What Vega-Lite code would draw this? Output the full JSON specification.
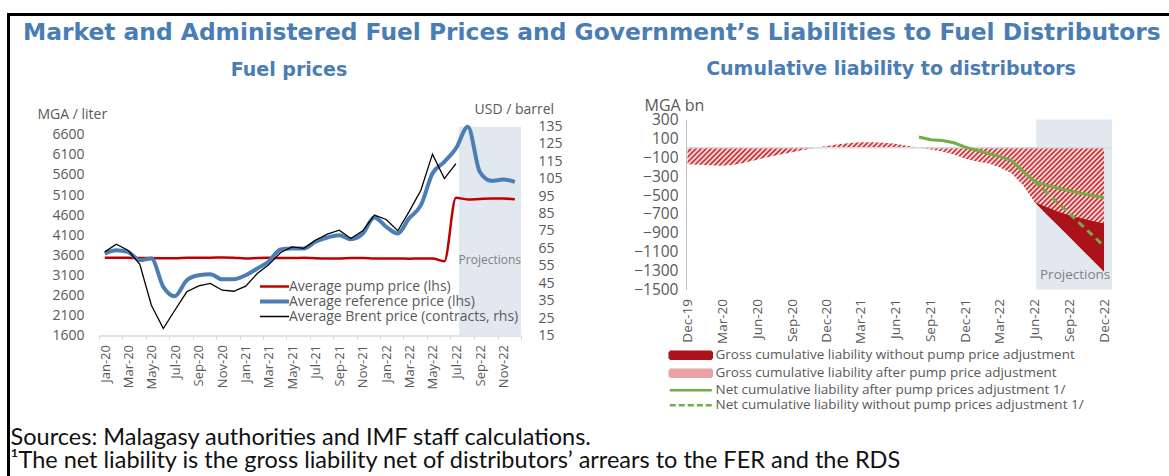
{
  "$schema": "https://vega.github.io/schema/vega-lite/v6.json",
  "background": "white",
  "padding": {"left": 7, "top": 13, "right": 0, "bottom": 0},
  "spacing": 0,
  "config": {
    "view": {"stroke": null},
    "font": "Open Sans",
    "axis": {"labelColor": "#595959", "titleColor": "#595959", "labelFont": "Open Sans", "titleFont": "Open Sans", "titleFontWeight": "normal", "grid": false, "labelOverlap": false, "labelBound": false, "labelFlush": false},
    "legend": {"labelColor": "#595959", "labelFont": "Open Sans", "padding": 0, "labelLimit": 600},
    "title": {"font": "DejaVu Sans", "fontWeight": "bold", "color": "#4A7DB4"}
  },
  "datasets": {
    "fuel": [
      {"d": "2020-01-16", "pump": 3540, "ref": 3640, "brent": 63.0},
      {"d": "2020-02-15", "pump": 3540, "ref": 3725, "brent": 67.4},
      {"d": "2020-03-16", "pump": 3535, "ref": 3685, "brent": 64.0},
      {"d": "2020-04-16", "pump": 3530, "ref": 3476, "brent": 55.9},
      {"d": "2020-05-16", "pump": 3530, "ref": 3518, "brent": 32.4},
      {"d": "2020-06-16", "pump": 3525, "ref": 2813, "brent": 19.0},
      {"d": "2020-07-16", "pump": 3525, "ref": 2580, "brent": 29.5},
      {"d": "2020-08-16", "pump": 3535, "ref": 2978, "brent": 40.1},
      {"d": "2020-09-16", "pump": 3540, "ref": 3102, "brent": 43.5},
      {"d": "2020-10-16", "pump": 3540, "ref": 3127, "brent": 44.9},
      {"d": "2020-11-16", "pump": 3545, "ref": 3000, "brent": 41.0},
      {"d": "2020-12-16", "pump": 3540, "ref": 3000, "brent": 40.4},
      {"d": "2021-01-16", "pump": 3520, "ref": 3102, "brent": 43.3},
      {"d": "2021-02-15", "pump": 3530, "ref": 3270, "brent": 50.6},
      {"d": "2021-03-16", "pump": 3535, "ref": 3436, "brent": 55.4},
      {"d": "2021-04-16", "pump": 3530, "ref": 3743, "brent": 62.5},
      {"d": "2021-05-16", "pump": 3530, "ref": 3768, "brent": 65.9},
      {"d": "2021-06-16", "pump": 3535, "ref": 3768, "brent": 65.0},
      {"d": "2021-07-16", "pump": 3525, "ref": 3934, "brent": 69.7},
      {"d": "2021-08-16", "pump": 3520, "ref": 4041, "brent": 73.2},
      {"d": "2021-09-16", "pump": 3520, "ref": 4100, "brent": 75.5},
      {"d": "2021-10-16", "pump": 3530, "ref": 4000, "brent": 70.7},
      {"d": "2021-11-16", "pump": 3530, "ref": 4141, "brent": 75.1},
      {"d": "2021-12-16", "pump": 3520, "ref": 4540, "brent": 84.1},
      {"d": "2022-01-16", "pump": 3520, "ref": 4308, "brent": 81.6},
      {"d": "2022-02-15", "pump": 3520, "ref": 4141, "brent": 75.1},
      {"d": "2022-03-16", "pump": 3515, "ref": 4515, "brent": 86.0},
      {"d": "2022-04-16", "pump": 3520, "ref": 4846, "brent": 98.4},
      {"d": "2022-05-16", "pump": 3520, "ref": 5636, "brent": 119.1},
      {"d": "2022-06-16", "pump": 3450, "ref": 5927, "brent": 105.1},
      {"d": "2022-07-16", "pump": 5030, "ref": 6259, "brent": 113.7},
      {"d": "2022-08-16", "pump": 4990, "ref": 6799},
      {"d": "2022-09-16", "pump": 5000, "ref": 5677},
      {"d": "2022-10-16", "pump": 5010, "ref": 5453},
      {"d": "2022-11-16", "pump": 5010, "ref": 5486},
      {"d": "2022-12-16", "pump": 4995, "ref": 5428}
    ],
    "liab": [
      {"d": "2019-12-01", "after": -175},
      {"d": "2020-01-01", "after": -178},
      {"d": "2020-02-01", "after": -185},
      {"d": "2020-03-01", "after": -190},
      {"d": "2020-04-01", "after": -180},
      {"d": "2020-05-01", "after": -155},
      {"d": "2020-06-01", "after": -126},
      {"d": "2020-07-01", "after": -98},
      {"d": "2020-08-01", "after": -70},
      {"d": "2020-09-01", "after": -46},
      {"d": "2020-10-01", "after": -22},
      {"d": "2020-11-01", "after": 0},
      {"d": "2020-12-01", "after": 19},
      {"d": "2021-01-01", "after": 37},
      {"d": "2021-02-01", "after": 51},
      {"d": "2021-03-01", "after": 60},
      {"d": "2021-04-01", "after": 60},
      {"d": "2021-05-01", "after": 54},
      {"d": "2021-06-01", "after": 44},
      {"d": "2021-07-01", "after": 22},
      {"d": "2021-08-01", "after": 0, "net": 114},
      {"d": "2021-09-01", "after": -17, "net": 86},
      {"d": "2021-10-01", "after": -40, "net": 78},
      {"d": "2021-11-01", "after": -70, "net": 54},
      {"d": "2021-12-01", "after": -115, "net": 8},
      {"d": "2022-01-01", "after": -145, "net": -27},
      {"d": "2022-02-01", "after": -165, "net": -62},
      {"d": "2022-03-01", "after": -205, "net": -90},
      {"d": "2022-04-01", "after": -270, "net": -135},
      {"d": "2022-05-01", "after": -390, "net": -245},
      {"d": "2022-06-01", "after": -573, "without": -573, "net": -355, "netw": -355},
      {"d": "2022-07-01", "after": -625, "without": -697, "net": -395, "netw": -465},
      {"d": "2022-08-01", "after": -675, "without": -820, "net": -425, "netw": -580},
      {"d": "2022-09-01", "after": -715, "without": -943, "net": -455, "netw": -695},
      {"d": "2022-10-01", "after": -745, "without": -1067, "net": -480, "netw": -810},
      {"d": "2022-11-01", "after": -775, "without": -1190, "net": -505, "netw": -925},
      {"d": "2022-12-01", "after": -800, "without": -1313, "net": -525, "netw": -1040}
    ]
  },
  "vconcat": [
    {
      "data": {"values": [{}]},
      "mark": {"type": "rect", "color": "#000000"},
      "encoding": {},
      "width": 1162,
      "height": 3
    },
    {
      "spacing": 0,
      "center": true,
      "hconcat": [
        {
          "data": {"values": [{}]},
          "mark": {"type": "rect", "color": "#000000"},
          "encoding": {},
          "width": 3,
          "height": 560
        },
        {
          "title": {
            "text": ["Sources: Malagasy authorities and IMF staff calculations.", "¹The net liability is the gross liability net of distributors’ arrears to the FER and the RDS"],
            "orient": "bottom",
            "anchor": "start",
            "font": "Lato",
            "fontWeight": "normal",
            "fontSize": 23.5,
            "lineHeight": 23,
            "color": "#111111",
            "offset": 13.5,
            "dx": -12.5
          },
          "vconcat": [
            {
              "title": {
                "text": "Market and Administered Fuel Prices and Government’s Liabilities to Fuel Distributors",
                "fontSize": 23.35,
                "anchor": "middle",
                "offset": 14,
                "dx": 17
              },
              "bounds": "flush",
              "spacing": 165,
              "resolve": {"scale": {"color": "independent"}, "legend": {"color": "independent"}},
              "hconcat": [
                {
                  "width": 422,
                  "height": 216,
                  "title": {"text": "Fuel prices", "fontSize": 19, "frame": "group", "anchor": "middle", "dx": -21, "offset": 23},
                  "data": {"name": "fuel"},
                  "resolve": {"scale": {"y": "independent"}},
                  "layer": [
                    {
                      "layer": [
                        {
                          "data": {"values": [{"start": "2022-07-24", "end": "2023-01-01"}]},
                          "mark": {"type": "rect", "color": "#E1E8F0"},
                          "encoding": {
                            "x": {
                              "field": "start", "type": "temporal",
                              "scale": {"type": "utc", "domain": [{"year": 2020, "month": 1, "date": 1, "utc": true}, {"year": 2023, "month": 1, "date": 1, "utc": true}]},
                              "axis": {
                                "title": null,
                                "tickCount": {"interval": "month", "step": 2},
                                "labelExpr": "utcyear(datum.value) > 2022 ? '' : utcFormat(datum.value, '%b-%y')",
                                "labelAngle": 270,
                                "labelOffset": 6,
                                "labelFontSize": 13,
                                "labelPadding": 5,
                                "tickSize": 4,
                                "tickColor": "#D9D9D9",
                                "domainColor": "#D9D9D9",
                                "domainWidth": 1.5,
                                "labelOverlap": false
                              }
                            },
                            "x2": {"field": "end"},
                            "y": {
                              "datum": 1600, "type": "quantitative",
                              "scale": {"domain": [1600, 6981], "nice": false, "zero": false},
                              "axis": {
                                "title": "MGA / liter",
                                "values": [1600, 2100, 2600, 3100, 3600, 4100, 4600, 5100, 5600, 6100, 6600],
                                "tickCount": 20,
                                "format": "d",
                                "domain": false,
                                "ticks": false,
                                "labelOverlap": false,
                                "labelPadding": 15,
                                "labelFontSize": 14,
                                "titleAngle": 0,
                                "titleAlign": "left",
                                "titleBaseline": "middle",
                                "titleX": -62,
                                "titleY": -5,
                                "titleFontSize": 14
                              }
                            },
                            "y2": {"datum": 6800}
                          }
                        },
                        {
                          "mark": {"type": "line", "strokeWidth": 2.5, "interpolate": "monotone"},
                          "encoding": {
                            "x": {"field": "d", "type": "temporal"},
                            "y": {"field": "pump", "type": "quantitative", "scale": {"domain": [1600, 6981], "nice": false, "zero": false}},
                            "color": {
                              "datum": "Average pump price (lhs)",
                              "type": "nominal",
                              "scale": {"domain": ["Average pump price (lhs)", "Average reference price (lhs)", "Average Brent price (contracts, rhs)"], "range": ["#C00000", "#4A7EB5", "#000000"]},
                              "legend": {
                                "title": null,
                                "orient": "none",
                                "legendX": 168.5,
                                "legendY": 160,
                                "symbolType": "M-2.9,0H2.9",
                                "symbolSize": 100,
                                "symbolStrokeWidth": 2.5,
                                "labelFontSize": 14,
                                "labelOffset": 7.5,
                                "labelLimit": 600,
                                "rowPadding": 0,
                                "padding": 0,
                                "encode": {
                                  "symbols": {
                                    "update": {
                                      "strokeWidth": {"signal": "datum.value === 'Average reference price (lhs)' ? 4 : datum.value === 'Average pump price (lhs)' ? 2.5 : 1.5"},
                                      "fill": {"value": "transparent"},
                                      "opacity": {"value": 1}
                                    }
                                  }
                                }
                              }
                            }
                          }
                        },
                        {
                          "mark": {"type": "line", "strokeWidth": 4, "interpolate": "monotone"},
                          "encoding": {
                            "x": {"field": "d", "type": "temporal"},
                            "y": {"field": "ref", "type": "quantitative", "scale": {"domain": [1600, 6981], "nice": false, "zero": false}},
                            "color": {"datum": "Average reference price (lhs)", "type": "nominal"}
                          }
                        },
                        {
                          "data": {"values": [{}]},
                          "mark": {"type": "text", "fontSize": 12, "color": "#808080", "font": "Open Sans"},
                          "encoding": {
                            "x": {"datum": {"year": 2022, "month": 10, "date": 12, "utc": true}, "type": "temporal"},
                            "y": {"datum": 3470, "type": "quantitative"},
                            "text": {"value": "Projections"}
                          }
                        }
                      ]
                    },
                    {
                      "mark": {"type": "line", "strokeWidth": 1.3},
                      "encoding": {
                        "x": {"field": "d", "type": "temporal"},
                        "y": {
                          "field": "brent", "type": "quantitative",
                          "scale": {"domain": [15, 139], "nice": false, "zero": false},
                          "axis": {
                            "orient": "right",
                            "title": "USD / barrel",
                            "values": [15, 25, 35, 45, 55, 65, 75, 85, 95, 105, 115, 125, 135],
                            "tickCount": 20,
                            "domain": false,
                            "ticks": false,
                            "labelOverlap": false,
                            "labelPadding": 17,
                            "labelFontSize": 14,
                            "titleAngle": 0,
                            "titleAlign": "left",
                            "titleBaseline": "middle",
                            "titleX": -47,
                            "titleY": -10,
                            "titleFontSize": 14
                          }
                        },
                        "color": {"datum": "Average Brent price (contracts, rhs)", "type": "nominal"}
                      }
                    }
                  ]
                },
                {
                  "width": 426,
                  "height": 170,
                  "title": {"text": "Cumulative liability  to distributors", "fontSize": 19, "frame": "group", "anchor": "middle", "dx": -8, "offset": 19},
                  "data": {"name": "liab"},
                  "layer": [
                    {
                      "data": {"values": [{"start": "2022-06-06", "end": "2022-12-22"}]},
                      "mark": {"type": "rect", "color": "#E1E8F0"},
                      "encoding": {
                        "x": {
                          "field": "start", "type": "temporal",
                          "scale": {"type": "utc", "domain": [{"year": 2019, "month": 11, "date": 27, "utc": true}, {"year": 2022, "month": 12, "date": 22, "utc": true}]},
                          "axis": {
                            "title": null,
                            "values": [
                              {"year": 2019, "month": 12, "date": 1, "utc": true},
                              {"year": 2020, "month": 3, "date": 1, "utc": true},
                              {"year": 2020, "month": 6, "date": 1, "utc": true},
                              {"year": 2020, "month": 9, "date": 1, "utc": true},
                              {"year": 2020, "month": 12, "date": 1, "utc": true},
                              {"year": 2021, "month": 3, "date": 1, "utc": true},
                              {"year": 2021, "month": 6, "date": 1, "utc": true},
                              {"year": 2021, "month": 9, "date": 1, "utc": true},
                              {"year": 2021, "month": 12, "date": 1, "utc": true},
                              {"year": 2022, "month": 3, "date": 1, "utc": true},
                              {"year": 2022, "month": 6, "date": 1, "utc": true},
                              {"year": 2022, "month": 9, "date": 1, "utc": true},
                              {"year": 2022, "month": 12, "date": 1, "utc": true}
                            ],
                            "tickCount": 20,
                            "labelExpr": "utcFormat(datum.value, '%b-%y')",
                            "labelAngle": 270,
                            "labelFontSize": 13.5,
                            "labelPadding": 9,
                            "domain": false,
                            "ticks": false,
                            "labelOverlap": false
                          }
                        },
                        "x2": {"field": "end"},
                        "y": {
                          "datum": 300, "type": "quantitative",
                          "scale": {"domain": [-1500, 300], "nice": false, "zero": false},
                          "axis": {
                            "title": "MGA bn",
                            "values": [-1500, -1300, -1100, -900, -700, -500, -300, -100, 100, 300],
                            "tickCount": 20,
                            "format": "d",
                            "domain": true,
                            "domainColor": "#BFBFBF",
                            "ticks": false,
                            "labelOverlap": false,
                            "labelPadding": 8,
                            "labelFontSize": 15.5,
                            "titleAngle": 0,
                            "titleAlign": "left",
                            "titleBaseline": "middle",
                            "titleX": -42,
                            "titleY": -14,
                            "titleFontSize": 16
                          }
                        },
                        "y2": {"datum": -1500}
                      }
                    },
                    {
                      "mark": {"type": "area", "opacity": 1},
                      "encoding": {
                        "x": {"field": "d", "type": "temporal"},
                        "y": {"field": "without", "type": "quantitative"},
                        "y2": {"datum": 0},
                        "color": {
                          "datum": "Gross cumulative liability without pump price adjustment",
                          "type": "nominal",
                          "scale": {
                            "domain": ["Gross cumulative liability without pump price adjustment", "Gross cumulative liability after pump price adjustment", "Net cumulative liability after pump prices adjustment 1/", "Net cumulative liability without pump prices adjustment 1/"],
                            "range": ["#AC1219", "#E8A2A2", "#70AD47", "#70AD47"]
                          },
                          "legend": {
                            "title": null,
                            "orient": "none",
                            "legendX": -2,
                            "legendY": 229,
                            "symbolType": "M-4.2,-0.7H4.2V0.7H-4.2Z",
                            "symbolSize": 100,
                            "symbolOpacity": 1,
                            "labelFontSize": 13.5,
                            "labelOffset": 18,
                            "labelLimit": 600,
                            "rowPadding": 0,
                            "padding": 0,
                            "encode": {
                              "symbols": {
                                "update": {
                                  "shape": {"signal": "indexof(datum.value, 'Net') === 0 ? 'M-4.2,0H4.2' : 'M-4.2,-0.7H4.2V0.7H-4.2Z'"},
                                  "fill": {"signal": "datum.value === 'Gross cumulative liability without pump price adjustment' ? '#AC1219' : datum.value === 'Gross cumulative liability after pump price adjustment' ? {gradient: 'linear', x1: 0, y1: 0, x2: 1.135, y2: 0.19, stops: [{offset: 0, color: '#c8161d'}, {offset: 0.04, color: '#fff'}, {offset: 0.08, color: '#c8161d'}, {offset: 0.12, color: '#fff'}, {offset: 0.16, color: '#c8161d'}, {offset: 0.2, color: '#fff'}, {offset: 0.24, color: '#c8161d'}, {offset: 0.28, color: '#fff'}, {offset: 0.32, color: '#c8161d'}, {offset: 0.36, color: '#fff'}, {offset: 0.4, color: '#c8161d'}, {offset: 0.44, color: '#fff'}, {offset: 0.48, color: '#c8161d'}, {offset: 0.52, color: '#fff'}, {offset: 0.56, color: '#c8161d'}, {offset: 0.6, color: '#fff'}, {offset: 0.64, color: '#c8161d'}, {offset: 0.68, color: '#fff'}, {offset: 0.72, color: '#c8161d'}, {offset: 0.76, color: '#fff'}, {offset: 0.8, color: '#c8161d'}, {offset: 0.84, color: '#fff'}, {offset: 0.88, color: '#c8161d'}, {offset: 0.92, color: '#fff'}, {offset: 0.96, color: '#c8161d'}, {offset: 1, color: '#fff'}]} : 'transparent'"},
                                  "stroke": {"signal": "indexof(datum.value, 'Net') === 0 ? '#70AD47' : 'transparent'"},
                                  "strokeDash": {"signal": "datum.value === 'Net cumulative liability without pump prices adjustment 1/' ? [6, 3] : [1, 0]"},
                                  "strokeWidth": {"value": 2.5},
                                  "opacity": {"value": 1}
                                }
                              }
                            }
                          }
                        }
                      }
                    },
                    {
                      "mark": {
                        "type": "area",
                        "opacity": 1,
                        "fill": {"gradient": "linear", "x1": 0, "y1": 0, "x2": 1.16, "y2": 0.226, "stops": [
                          {"offset":0,"color":"#c8161d"},{"offset":0.005,"color":"#fff"},{"offset":0.01,"color":"#c8161d"},{"offset":0.015,"color":"#fff"},{"offset":0.02,"color":"#c8161d"},{"offset":0.025,"color":"#fff"},{"offset":0.03,"color":"#c8161d"},{"offset":0.035,"color":"#fff"},{"offset":0.04,"color":"#c8161d"},{"offset":0.045,"color":"#fff"},
                          {"offset":0.05,"color":"#c8161d"},{"offset":0.055,"color":"#fff"},{"offset":0.06,"color":"#c8161d"},{"offset":0.065,"color":"#fff"},{"offset":0.07,"color":"#c8161d"},{"offset":0.075,"color":"#fff"},{"offset":0.08,"color":"#c8161d"},{"offset":0.085,"color":"#fff"},{"offset":0.09,"color":"#c8161d"},{"offset":0.095,"color":"#fff"},
                          {"offset":0.1,"color":"#c8161d"},{"offset":0.105,"color":"#fff"},{"offset":0.11,"color":"#c8161d"},{"offset":0.115,"color":"#fff"},{"offset":0.12,"color":"#c8161d"},{"offset":0.125,"color":"#fff"},{"offset":0.13,"color":"#c8161d"},{"offset":0.135,"color":"#fff"},{"offset":0.14,"color":"#c8161d"},{"offset":0.145,"color":"#fff"},
                          {"offset":0.15,"color":"#c8161d"},{"offset":0.155,"color":"#fff"},{"offset":0.16,"color":"#c8161d"},{"offset":0.165,"color":"#fff"},{"offset":0.17,"color":"#c8161d"},{"offset":0.175,"color":"#fff"},{"offset":0.18,"color":"#c8161d"},{"offset":0.185,"color":"#fff"},{"offset":0.19,"color":"#c8161d"},{"offset":0.195,"color":"#fff"},
                          {"offset":0.2,"color":"#c8161d"},{"offset":0.205,"color":"#fff"},{"offset":0.21,"color":"#c8161d"},{"offset":0.215,"color":"#fff"},{"offset":0.22,"color":"#c8161d"},{"offset":0.225,"color":"#fff"},{"offset":0.23,"color":"#c8161d"},{"offset":0.235,"color":"#fff"},{"offset":0.24,"color":"#c8161d"},{"offset":0.245,"color":"#fff"},
                          {"offset":0.25,"color":"#c8161d"},{"offset":0.255,"color":"#fff"},{"offset":0.26,"color":"#c8161d"},{"offset":0.265,"color":"#fff"},{"offset":0.27,"color":"#c8161d"},{"offset":0.275,"color":"#fff"},{"offset":0.28,"color":"#c8161d"},{"offset":0.285,"color":"#fff"},{"offset":0.29,"color":"#c8161d"},{"offset":0.295,"color":"#fff"},
                          {"offset":0.3,"color":"#c8161d"},{"offset":0.305,"color":"#fff"},{"offset":0.31,"color":"#c8161d"},{"offset":0.315,"color":"#fff"},{"offset":0.32,"color":"#c8161d"},{"offset":0.325,"color":"#fff"},{"offset":0.33,"color":"#c8161d"},{"offset":0.335,"color":"#fff"},{"offset":0.34,"color":"#c8161d"},{"offset":0.345,"color":"#fff"},
                          {"offset":0.35,"color":"#c8161d"},{"offset":0.355,"color":"#fff"},{"offset":0.36,"color":"#c8161d"},{"offset":0.365,"color":"#fff"},{"offset":0.37,"color":"#c8161d"},{"offset":0.375,"color":"#fff"},{"offset":0.38,"color":"#c8161d"},{"offset":0.385,"color":"#fff"},{"offset":0.39,"color":"#c8161d"},{"offset":0.395,"color":"#fff"},
                          {"offset":0.4,"color":"#c8161d"},{"offset":0.405,"color":"#fff"},{"offset":0.41,"color":"#c8161d"},{"offset":0.415,"color":"#fff"},{"offset":0.42,"color":"#c8161d"},{"offset":0.425,"color":"#fff"},{"offset":0.43,"color":"#c8161d"},{"offset":0.435,"color":"#fff"},{"offset":0.44,"color":"#c8161d"},{"offset":0.445,"color":"#fff"},
                          {"offset":0.45,"color":"#c8161d"},{"offset":0.455,"color":"#fff"},{"offset":0.46,"color":"#c8161d"},{"offset":0.465,"color":"#fff"},{"offset":0.47,"color":"#c8161d"},{"offset":0.475,"color":"#fff"},{"offset":0.48,"color":"#c8161d"},{"offset":0.485,"color":"#fff"},{"offset":0.49,"color":"#c8161d"},{"offset":0.495,"color":"#fff"},
                          {"offset":0.5,"color":"#c8161d"},{"offset":0.505,"color":"#fff"},{"offset":0.51,"color":"#c8161d"},{"offset":0.515,"color":"#fff"},{"offset":0.52,"color":"#c8161d"},{"offset":0.525,"color":"#fff"},{"offset":0.53,"color":"#c8161d"},{"offset":0.535,"color":"#fff"},{"offset":0.54,"color":"#c8161d"},{"offset":0.545,"color":"#fff"},
                          {"offset":0.55,"color":"#c8161d"},{"offset":0.555,"color":"#fff"},{"offset":0.56,"color":"#c8161d"},{"offset":0.565,"color":"#fff"},{"offset":0.57,"color":"#c8161d"},{"offset":0.575,"color":"#fff"},{"offset":0.58,"color":"#c8161d"},{"offset":0.585,"color":"#fff"},{"offset":0.59,"color":"#c8161d"},{"offset":0.595,"color":"#fff"},
                          {"offset":0.6,"color":"#c8161d"},{"offset":0.605,"color":"#fff"},{"offset":0.61,"color":"#c8161d"},{"offset":0.615,"color":"#fff"},{"offset":0.62,"color":"#c8161d"},{"offset":0.625,"color":"#fff"},{"offset":0.63,"color":"#c8161d"},{"offset":0.635,"color":"#fff"},{"offset":0.64,"color":"#c8161d"},{"offset":0.645,"color":"#fff"},
                          {"offset":0.65,"color":"#c8161d"},{"offset":0.655,"color":"#fff"},{"offset":0.66,"color":"#c8161d"},{"offset":0.665,"color":"#fff"},{"offset":0.67,"color":"#c8161d"},{"offset":0.675,"color":"#fff"},{"offset":0.68,"color":"#c8161d"},{"offset":0.685,"color":"#fff"},{"offset":0.69,"color":"#c8161d"},{"offset":0.695,"color":"#fff"},
                          {"offset":0.7,"color":"#c8161d"},{"offset":0.705,"color":"#fff"},{"offset":0.71,"color":"#c8161d"},{"offset":0.715,"color":"#fff"},{"offset":0.72,"color":"#c8161d"},{"offset":0.725,"color":"#fff"},{"offset":0.73,"color":"#c8161d"},{"offset":0.735,"color":"#fff"},{"offset":0.74,"color":"#c8161d"},{"offset":0.745,"color":"#fff"},
                          {"offset":0.75,"color":"#c8161d"},{"offset":0.755,"color":"#fff"},{"offset":0.76,"color":"#c8161d"},{"offset":0.765,"color":"#fff"},{"offset":0.77,"color":"#c8161d"},{"offset":0.775,"color":"#fff"},{"offset":0.78,"color":"#c8161d"},{"offset":0.785,"color":"#fff"},{"offset":0.79,"color":"#c8161d"},{"offset":0.795,"color":"#fff"},
                          {"offset":0.8,"color":"#c8161d"},{"offset":0.805,"color":"#fff"},{"offset":0.81,"color":"#c8161d"},{"offset":0.815,"color":"#fff"},{"offset":0.82,"color":"#c8161d"},{"offset":0.825,"color":"#fff"},{"offset":0.83,"color":"#c8161d"},{"offset":0.835,"color":"#fff"},{"offset":0.84,"color":"#c8161d"},{"offset":0.845,"color":"#fff"},
                          {"offset":0.85,"color":"#c8161d"},{"offset":0.855,"color":"#fff"},{"offset":0.86,"color":"#c8161d"},{"offset":0.865,"color":"#fff"},{"offset":0.87,"color":"#c8161d"},{"offset":0.875,"color":"#fff"},{"offset":0.88,"color":"#c8161d"},{"offset":0.885,"color":"#fff"},{"offset":0.89,"color":"#c8161d"},{"offset":0.895,"color":"#fff"},
                          {"offset":0.9,"color":"#c8161d"},{"offset":0.905,"color":"#fff"},{"offset":0.91,"color":"#c8161d"},{"offset":0.915,"color":"#fff"},{"offset":0.92,"color":"#c8161d"},{"offset":0.925,"color":"#fff"},{"offset":0.93,"color":"#c8161d"},{"offset":0.935,"color":"#fff"},{"offset":0.94,"color":"#c8161d"},{"offset":0.945,"color":"#fff"},
                          {"offset":0.95,"color":"#c8161d"},{"offset":0.955,"color":"#fff"},{"offset":0.96,"color":"#c8161d"},{"offset":0.965,"color":"#fff"},{"offset":0.97,"color":"#c8161d"},{"offset":0.975,"color":"#fff"},{"offset":0.98,"color":"#c8161d"},{"offset":0.985,"color":"#fff"},{"offset":0.99,"color":"#c8161d"},{"offset":0.995,"color":"#fff"},
                          {"offset":1,"color":"#c8161d"}
                        ]}
                      },
                      "encoding": {
                        "x": {"field": "d", "type": "temporal"},
                        "y": {"field": "after", "type": "quantitative"},
                        "y2": {"datum": 0}
                      }
                    },
                    {
                      "data": {"values": [{}]},
                      "mark": {"type": "rule", "color": "#D9D9D9", "strokeWidth": 1.5},
                      "encoding": {"y": {"datum": 0, "type": "quantitative"}}
                    },
                    {
                      "mark": {"type": "line", "strokeWidth": 3},
                      "encoding": {
                        "x": {"field": "d", "type": "temporal"},
                        "y": {"field": "net", "type": "quantitative"},
                        "color": {"datum": "Net cumulative liability after pump prices adjustment 1/", "type": "nominal"}
                      }
                    },
                    {
                      "mark": {"type": "line", "strokeWidth": 3, "strokeDash": [7, 5]},
                      "encoding": {
                        "x": {"field": "d", "type": "temporal"},
                        "y": {"field": "netw", "type": "quantitative"},
                        "color": {"datum": "Net cumulative liability without pump prices adjustment 1/", "type": "nominal"}
                      }
                    },
                    {
                      "data": {"values": [{}]},
                      "mark": {"type": "text", "fontSize": 13.5, "color": "#808080", "font": "Open Sans"},
                      "encoding": {
                        "x": {"datum": {"year": 2022, "month": 9, "date": 16, "utc": true}, "type": "temporal"},
                        "y": {"datum": -1350, "type": "quantitative"},
                        "text": {"value": "Projections"}
                      }
                    }
                  ]
                }
              ]
            }
          ]
        }
      ]
    }
  ]
}
